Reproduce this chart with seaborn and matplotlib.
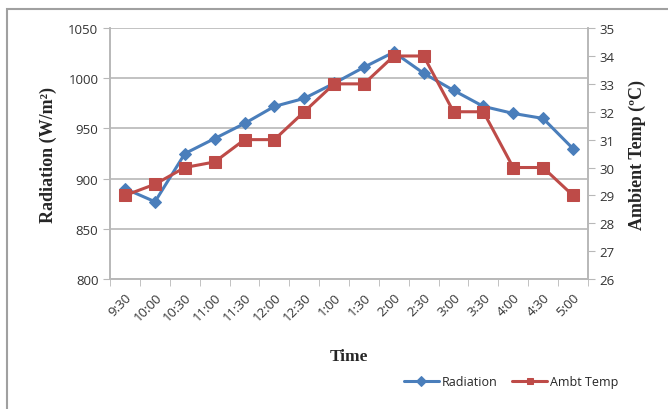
import pandas as pd
import matplotlib.pyplot as plt
import seaborn as sns
from matplotlib.patches import Rectangle
from matplotlib.ticker import FixedLocator

# Data
times = ['9:30', '10:00', '10:30', '11:00', '11:30', '12:00', '12:30', '1:00',
         '1:30', '2:00', '2:30', '3:00', '3:30', '4:00', '4:30', '5:00']
radiation = [890, 877, 925, 940, 955, 972, 980, 995, 1011, 1026, 1005, 988, 972, 965, 960, 930]
ambt_temp = [29.0, 29.4, 30.0, 30.2, 31.0, 31.0, 32.0, 33.0, 33.0, 34.0, 34.0, 32.0, 32.0, 30.0, 30.0, 29.0]

df = pd.DataFrame({'pos': range(len(times)), 'Time': times,
                   'Radiation': radiation, 'Ambt Temp': ambt_temp})

sns.set_style('white')
tick_font = 'Open Sans'
label_font = 'Liberation Serif'
blue = '#4a7ebb'
red = '#be4b48'
grid_col = '#b8b8b8'

fig = plt.figure(figsize=(6.68, 4.10), dpi=100)
ax = fig.add_axes([0.165, 0.317, 0.715, 0.612])
ax2 = ax.twinx()

sns.lineplot(data=df, x='pos', y='Radiation', ax=ax, color=blue, marker='D',
             markersize=6, linewidth=2.2, markeredgecolor=blue, label='Radiation', legend=False)
sns.lineplot(data=df, x='pos', y='Ambt Temp', ax=ax2, color=red, marker='s',
             markersize=9, linewidth=2.2, markeredgecolor=red, label='Ambt Temp', legend=False)

# left axis
ax.set_xlim(-0.5, len(times) - 0.5)
ax.set_ylim(800, 1050)
ax.set_yticks(range(800, 1051, 50))
ax.yaxis.grid(True, color=grid_col, linewidth=1.2)
ax.set_axisbelow(True)
ax2.set_ylim(26, 35)
ax2.set_yticks(range(26, 36))

ax.set_xticks(range(len(times)))
ax.set_xticklabels(times, rotation=45, ha='right', rotation_mode='anchor',
                   fontfamily=tick_font, fontsize=9.5, color='#333333')
ax.tick_params(axis='x', which='major', length=0, pad=8)
ax.xaxis.set_minor_locator(FixedLocator([i - 0.5 for i in range(len(times) + 1)]))
ax.tick_params(axis='x', which='minor', length=5, color=grid_col, direction='out', bottom=True)
ax.tick_params(axis='y', length=5, color=grid_col, direction='out', left=True)
ax2.tick_params(axis='y', length=5, color=grid_col, direction='out', right=True)

for lab in ax.get_yticklabels() + ax2.get_yticklabels():
    lab.set_fontfamily(tick_font)
    lab.set_fontsize(9.5)
    lab.set_color('#333333')

for a in (ax, ax2):
    a.spines['top'].set_visible(False)
    for s in ('left', 'right', 'bottom'):
        a.spines[s].set_color(grid_col)
        a.spines[s].set_linewidth(1.2)

ax.set_xlabel('Time', fontfamily=label_font, fontweight='bold', fontsize=12.5, labelpad=18)
ax.set_ylabel('Radiation (W/m²)', fontfamily=label_font, fontweight='bold',
              fontsize=13, labelpad=8)
ax2.set_ylabel('Ambient Temp (ºC)', fontfamily=label_font, fontweight='bold',
               fontsize=13, labelpad=10)

# legend at bottom right
h1, l1 = ax.get_legend_handles_labels()
h2, l2 = ax2.get_legend_handles_labels()
fig.legend(h1 + h2, l1 + l2, loc='center', bbox_to_anchor=(0.765, 0.066), ncol=2,
           frameon=False, prop={'family': tick_font, 'size': 9}, handlelength=2.8,
           columnspacing=1.2, handletextpad=0.2)
for h in fig.legends[0].legend_handles:
    h.set_markersize(5)

# outer chart frame
fig.patches.append(Rectangle((7 / 668, -0.1), 1.2, 1 - 10 / 410 + 0.1, transform=fig.transFigure,
                             fill=False, edgecolor='#a0a0a0', linewidth=1.5))

fig.savefig('out.png', dpi=100)
